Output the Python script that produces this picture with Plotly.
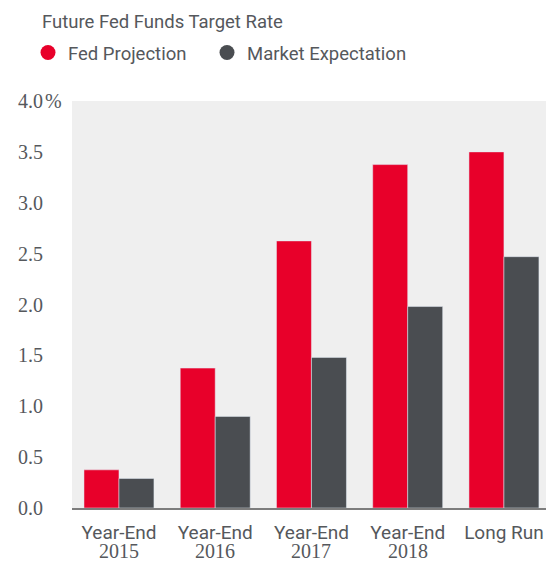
import plotly.graph_objects as go

categories = ["Year-End 2015", "Year-End 2016", "Year-End 2017", "Year-End 2018", "Long Run"]
tick_top = ["Year-End", "Year-End", "Year-End", "Year-End", "Long Run"]
tick_bottom = ["2015", "2016", "2017", "2018", ""]
fed_projection = [0.375, 1.375, 2.625, 3.375, 3.5]
market_expectation = [0.29, 0.90, 1.48, 1.98, 2.47]
y_ticks = [0, 0.5, 1.0, 1.5, 2.0, 2.5, 3.0, 3.5, 4.0]
y_labels = ["0.0", "0.5", "1.0", "1.5", "2.0", "2.5", "3.0", "3.5", "4.0"]

RED = "#e8002a"
GRAY = "#4a4d51"
TXT = "#55585c"
SERIF = "Liberation Serif, DejaVu Serif, serif"
SANS = "Roboto, Liberation Sans, sans-serif"

W, H = 546, 561

fig = go.Figure()
fig.add_trace(go.Bar(x=categories, y=fed_projection, marker_color=RED, showlegend=False))
fig.add_trace(go.Bar(x=categories, y=market_expectation, marker_color=GRAY, showlegend=False))
fig.add_trace(go.Scatter(x=[None], y=[None], mode="markers", name="Fed Projection",
                         legend="legend",
                         marker=dict(color=RED, size=15, symbol="circle")))
fig.add_trace(go.Scatter(x=[None], y=[None], mode="markers", name="Market Expectation",
                         legend="legend2",
                         marker=dict(color=GRAY, size=15, symbol="circle")))

annotations = []
for c, b in zip(categories, tick_bottom):
    if b:
        annotations.append(dict(x=c, y=0, xref="x", yref="paper", text=b, showarrow=False,
                                yanchor="top", yshift=-30,
                                font=dict(family=SERIF, size=20, color=TXT)))
annotations.append(dict(x=0, y=4.0, xref="paper", yref="y", text="%", showarrow=False,
                        xanchor="left", xshift=-29.5, yshift=0,
                        font=dict(family=SERIF, size=20, color=TXT)))

legend_common = dict(orientation="h", xref="container", yref="container",
                     xanchor="left", yanchor="middle",
                     font=dict(family=SANS, size=18.5, color=TXT),
                     itemclick=False, itemdoubleclick=False, bgcolor="rgba(0,0,0,0)")

fig.update_layout(
    width=W, height=H,
    margin=dict(l=72, r=0, t=101, b=53),
    paper_bgcolor="white",
    plot_bgcolor="#efefef",
    barmode="group",
    bargap=0.273,
    bargroupgap=0,
    title=dict(text="Future Fed Funds Target Rate", x=42/W, xref="container", xanchor="left",
               y=1 - 22/H, yref="container", yanchor="middle",
               font=dict(family=SANS, size=18.5, color=TXT)),
    legend=dict(x=28/W, y=1 - 53/H, **legend_common),
    legend2=dict(x=207/W, y=1 - 53/H, **legend_common),
    xaxis=dict(tickmode="array", tickvals=categories, ticktext=tick_top,
               range=[-0.488, 4.437], showgrid=False, zeroline=False,
               showline=True, linecolor="#7d7d7d", linewidth=2,
               tickfont=dict(family=SANS, size=19, color=TXT), ticks="",
               ticklabelstandoff=6),
    yaxis=dict(tickmode="array", tickvals=y_ticks, ticktext=y_labels, range=[0, 4.0],
               showgrid=False, zeroline=False, ticks="", ticklabelstandoff=28,
               tickfont=dict(family=SERIF, size=20, color=TXT)),
    annotations=annotations,
)
fig.write_html("out.html", config={"displayModeBar": False},
               post_script="document.body.style.margin='0';document.body.style.overflow='hidden';")
